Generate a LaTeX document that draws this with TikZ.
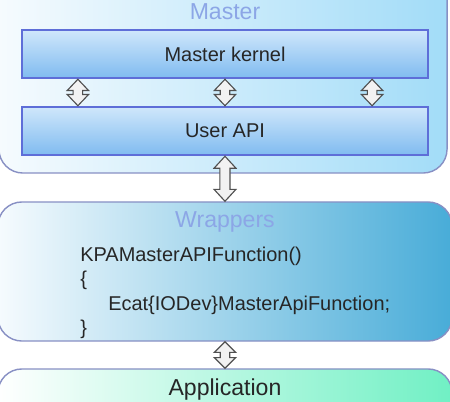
\documentclass[tikz,border=0pt]{standalone}
\usepackage{fontspec}
\setmainfont{Liberation Sans}
\usetikzlibrary{calc}

\definecolor{framegray}{HTML}{8890C4}
\definecolor{kernelblue}{HTML}{5E6ED8}
\definecolor{kerneltop}{HTML}{CFE7FB}
\definecolor{kernelbottom}{HTML}{80BBF0}
\definecolor{titleblue}{HTML}{8CA6E6}
\definecolor{masterright}{HTML}{A2DCF8}
\definecolor{wrapright}{HTML}{48ACD8}
\definecolor{appright}{HTML}{70F0C4}
\definecolor{paleleft}{HTML}{F6FBFE}
\definecolor{arrowgray}{HTML}{505050}
\definecolor{arrowfill}{HTML}{F2F2F2}

\newcommand{\diagbody}{\fontsize{14.2}{17}\selectfont}
\newcommand{\diagtitle}{\fontsize{16.4}{19}\selectfont}

\tikzset{
  outerbox/.style={draw=framegray, line width=1pt, rounded corners=17pt},
  innerbox/.style={draw=kernelblue, line width=1.8pt, top color=kerneltop,
    bottom color=kernelbottom, minimum width=10.15cm, minimum height=1.2cm,
    text=black!85, font=\diagbody},
  titletext/.style={text=titleblue, font=\diagtitle},
  codetext/.style={anchor=base west, inner sep=0pt, text=black!85, font=\diagbody},
  linkarrow/.style={draw=arrowgray, line width=0.8pt, fill=arrowfill},
}

% double headed arrow between two named nodes
\newcommand{\linkarrow}[6]{%
  \path[linkarrow] let \p1=($(#1.south west)!#3!(#1.south east)$),
    \p2=($(#2.north west)!#3!(#2.north east)$) in
    (\x1,\y1) -- (\x1+#4,\y1-#5) -- (\x1+#6,\y1-#5) -- (\x1+#6,\y2+#5)
    -- (\x1+#4,\y2+#5) -- (\x1,\y2) -- (\x1-#4,\y2+#5) -- (\x1-#6,\y2+#5)
    -- (\x1-#6,\y1-#5) -- (\x1-#4,\y1-#5) -- cycle;
}

\begin{document}
\begin{tikzpicture}[x=0.025cm, y=-0.025cm]

\useasboundingbox (0,0) rectangle (450,402);

\node[outerbox, left color=paleleft, right color=masterright,
  minimum width=11.2cm, minimum height=5.075cm] (master) at (223,71.5) {};
\node[titletext] (mastertitle) at (225,12) {Master};

\node[innerbox] (kernel) at (225,54) {Master kernel};
\node[innerbox] (api) at (225,131) {User API};

\node[outerbox, left color=paleleft, right color=wrapright,
  minimum width=11.35cm, minimum height=3.475cm] (wrappers) at (225,271.5) {};
\node[titletext] (wrapperstitle) at (225,222) {Wrappers};

\node[codetext] (code1) at (80,261) {KPAMasterAPIFunction()};
\node[codetext] (code2) at (80,285) {\{};
\node[codetext] (code3) at (108,310) {Ecat\{IODev\}MasterApiFunction;};
\node[codetext] (code4) at (80,334) {\}};

\node[outerbox, left color=white, right color=appright,
  minimum width=11.35cm, minimum height=1.9cm] (app) at (225,407) {};
\node[font=\diagtitle, text=black!85] (apptitle) at (225,390) {Application};

\linkarrow{kernel}{api}{0.14}{7.6pt}{8pt}{3.4pt}
\linkarrow{kernel}{api}{0.5}{7.6pt}{8pt}{3.4pt}
\linkarrow{kernel}{api}{0.86}{7.6pt}{8pt}{3.4pt}
\linkarrow{api}{wrappers}{0.5}{7.8pt}{8.5pt}{3.6pt}
\linkarrow{wrappers}{app}{0.5}{7.6pt}{7.6pt}{3.4pt}

\end{tikzpicture}
\end{document}
